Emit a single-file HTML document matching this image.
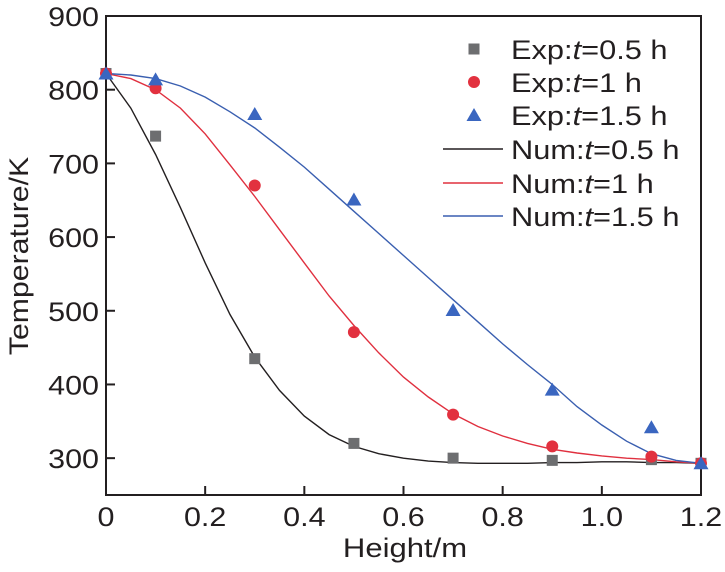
<!DOCTYPE html>
<html><head><meta charset="utf-8"><style>
body{margin:0;background:#fff}
svg{display:block;font-family:"Liberation Sans",Arial,sans-serif}
</style></head><body>
<svg id="chart" width="725" height="572">
<g id="axes"></g>
<g id="plot"></g>
<g id="legend"></g>
</svg>
<script>
const xTicks=[0,0.2,0.4,0.6,0.8,1.0,1.2];
const xTickLabels=["0","0.2","0.4","0.6","0.8","1.0","1.2"];
const yTicks=[300,400,500,600,700,800,900];
const expX=[0,0.1,0.3,0.5,0.7,0.9,1.1,1.2];
const exp05=[822,737,435,320,300,297,298,293];
const exp1=[822,802,670,471,359,316,302,293];
const exp15=[822,814,767,651,501,393,342,293];
const numX=[0,0.05,0.1,0.15,0.2,0.25,0.3,0.35,0.4,0.45,0.5,0.55,0.6,0.65,0.7,0.75,0.8,0.85,0.9,0.95,1.0,1.05,1.1,1.15,1.2];
const num05=[822,775,712,640,565,495,437,392,357,332,316,306,300,296,294,293,293,293,294,294,295,295,294,294,293];
const num1=[822,815,800,775,740,698,655,610,565,520,480,443,410,383,360,343,330,320,312,307,303,300,298,295,293];
const num15=[822,820,815,805,790,770,748,722,695,665,635,605,575,545,515,485,455,427,400,370,345,323,306,297,293];
const NS="http://www.w3.org/2000/svg";
const L=106,R=701,T=16,B=495,xMin=0,xMax=1.2,yMin=250,yMax=900;
const sx=v=>L+(v-xMin)/(xMax-xMin)*(R-L);
const sy=v=>B-(v-yMin)/(yMax-yMin)*(B-T);
function mk(tag,attrs,parent,text){const e=document.createElementNS(NS,tag);for(const k in attrs)e.setAttribute(k,attrs[k]);if(text!==undefined)e.textContent=text;parent.appendChild(e);return e;}
const axes=document.getElementById('axes'),plot=document.getElementById('plot'),leg=document.getElementById('legend');
let box=mk('rect',{x:L,y:T,width:R-L,height:B-T,fill:'none',stroke:'#231f20','stroke-width':2},axes);


xTicks.forEach((v,i)=>{
 let t=mk('line',{x1:sx(v),x2:sx(v),y1:B,y2:B-9,stroke:'#231f20','stroke-width':2},axes);
 
 
 let lb=mk('text',{transform:`translate(${sx(v)},${B+31}) scale(1.13,1)`,'text-anchor':'middle','font-size':27,fill:'#231f20'},axes,xTickLabels[i]);
 
 
});
yTicks.forEach(v=>{
 let t=mk('line',{x1:L,x2:L+9,y1:sy(v),y2:sy(v),stroke:'#231f20','stroke-width':2},axes);
 
 
 let lb=mk('text',{transform:`translate(${L-7},${sy(v)+10}) scale(1.13,1)`,'text-anchor':'end','font-size':27,fill:'#231f20'},axes,String(v));
 
 
});
let xt=mk('text',{transform:'translate(405,557) scale(1.15,1)','text-anchor':'middle','font-size':27,fill:'#231f20'},axes,'Height/m');


let yt=mk('text',{transform:'translate(28,256) rotate(-90) scale(1.12,1)','text-anchor':'middle','font-size':27,fill:'#231f20'},axes,'Temperature/K');


function line(ys,color,name){
 const d=numX.map((x,i)=>(i?'L':'M')+sx(x).toFixed(1)+','+sy(ys[i]).toFixed(1)).join(' ');
 let p=mk('path',{d:d,fill:'none',stroke:color,'stroke-width':1.4},plot);
 
 
}
line(num05,'#231f20','num-line-0.5h');
line(num1,'#e0303f','num-line-1h');
line(num15,'#3a5fb0','num-line-1.5h');
function marker(kind,x,y,parent){
 if(kind==='sq')return mk('rect',{x:x-5.5,y:y-5.5,width:11,height:11,fill:'#6d6e70'},parent);
 if(kind==='ci')return mk('circle',{cx:x,cy:y,r:6,fill:'#e2313f'},parent);
 return mk('path',{d:`M${x},${y-7} L${x+7.5},${y+6} L${x-7.5},${y+6} Z`,fill:'#3a66c0'},parent);
}
[[exp05,'sq','exp-point-0.5h'],[exp1,'ci','exp-point-1h'],[exp15,'tr','exp-point-1.5h']].forEach(([ys,k,n])=>{
 ys.forEach((v,i)=>{let m=marker(k,sx(expX[i]),sy(v),plot);
  
  });
});
const legRows=[['sq','Exp:','=0.5 h',49],['ci','Exp:','=1 h',82],['tr','Exp:','=1.5 h',115],['#231f20','Num:','=0.5 h',149],['#e0303f','Num:','=1 h',183],['#3a5fb0','Num:','=1.5 h',216]];
legRows.forEach(([k,a,b,y])=>{
 let g=mk('g',{},leg);
 
 
 if(k[0]==='#')mk('line',{x1:443,x2:503,y1:y,y2:y,stroke:k,'stroke-width':1.4},g);
 else marker(k,474,y,g);
 const t=mk('text',{transform:`translate(511,${y+10}) scale(1.14,1)`,'font-size':27,fill:'#231f20'},g);
 t.appendChild(document.createTextNode(a));
 mk('tspan',{'font-style':'italic'},t,'t');
 t.appendChild(document.createTextNode(b));
});
</script>
</body></html>
